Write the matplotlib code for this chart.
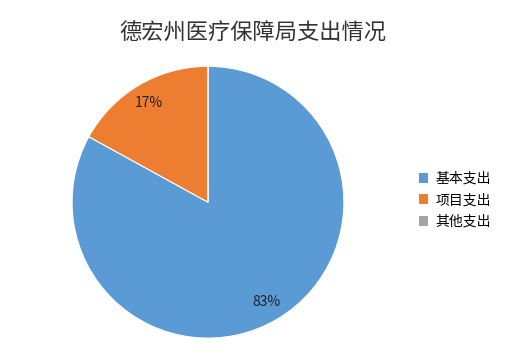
import matplotlib
matplotlib.use("Agg")
import matplotlib.pyplot as plt
from matplotlib.patches import Patch

plt.rcParams['font.family'] = ['Noto Sans CJK SC', 'DejaVu Sans']

categories = ["基本支出", "项目支出", "其他支出"]
shares = [83, 17, 0]
colors = ["#5b9bd5", "#ed7d31", "#a5a5a5"]
title = "德宏州医疗保障局支出情况"


def _pct(v):
    return f"{v:.0f}%" if v >= 0.5 else ""


fig = plt.figure(figsize=(5.11, 3.64), dpi=100)
ax = fig.add_axes([0.141, 0.071, 0.532, 0.747])
ax.pie(shares, colors=colors, startangle=90, counterclock=False,
       autopct=_pct, pctdistance=0.85,
       wedgeprops=dict(edgecolor="white", linewidth=0.8),
       textprops=dict(fontsize=10, color="#222222"))
ax.set_xlim(-1, 1)
ax.set_ylim(-1, 1)
ax.set_aspect("equal")

fig.text(0.495, 0.91, title, ha="center", va="center", fontsize=16,
         color="#333333")

handles = [Patch(facecolor=c, edgecolor="none") for c in colors]
fig.legend(handles, categories, loc="center left",
           bbox_to_anchor=(0.795, 0.45), frameon=False, fontsize=10,
           handlelength=0.7, handleheight=0.7, handletextpad=0.5,
           labelspacing=0.55)

fig.savefig("out.png", dpi=100, facecolor="white")
